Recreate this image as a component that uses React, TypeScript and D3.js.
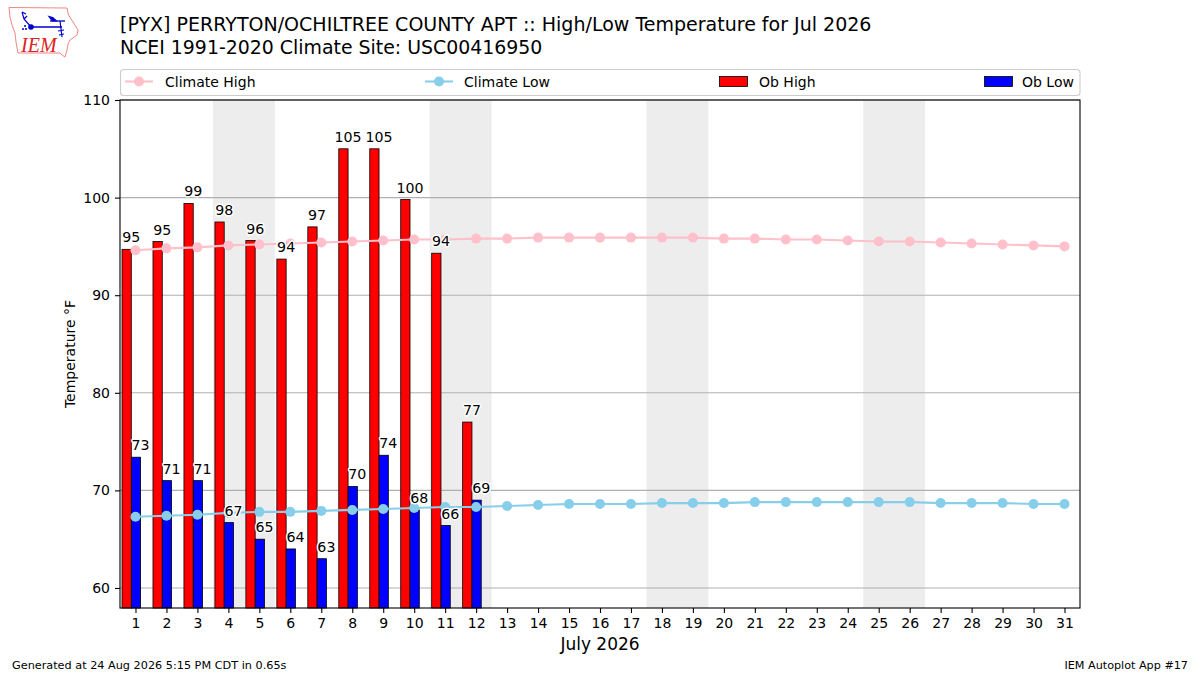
import { useEffect, useRef } from "react";
import * as d3 from "d3";

const WIDTH = 1200;
const HEIGHT = 675;
const MARGIN = { top: 100, right: 120, bottom: 67, left: 120 };
const FONT = "'DejaVu Sans', sans-serif";

const days = d3.range(1, 32);
const yTicks = [60, 70, 80, 90, 100, 110];
const weekends = [[3.5, 5.5], [10.5, 12.5], [17.5, 19.5], [24.5, 26.5]];

// bar heights sit a little off the printed labels in the original
const obHigh = [94.7, 95.5, 99.4, 97.5, 95.6, 93.7, 97, 105, 105, 99.8, 94.3, 77];
const obLow = [73.4, 71, 71, 66.7, 65, 64, 63, 70.4, 73.6, 68, 66.4, 69];
const obHighLabels = [95, 95, 99, 98, 96, 94, 97, 105, 105, 100, 94, 77];
const obLowLabels = [73, 71, 71, 67, 65, 64, 63, 70, 74, 68, 66, 69];

const climateHigh = [
  94.6, 94.8, 94.9, 95.1, 95.2, 95.3, 95.4, 95.5, 95.6, 95.7, 95.7, 95.8, 95.8, 95.9, 95.9, 95.9,
  95.9, 95.9, 95.9, 95.8, 95.8, 95.7, 95.7, 95.6, 95.5, 95.5, 95.4, 95.3, 95.2, 95.1, 95.0,
];
const climateLow = [
  67.3, 67.4, 67.5, 67.7, 67.8, 67.8, 67.9, 68.0, 68.1, 68.2, 68.3, 68.3, 68.4, 68.5, 68.6, 68.6,
  68.6, 68.7, 68.7, 68.7, 68.8, 68.8, 68.8, 68.8, 68.8, 68.8, 68.7, 68.7, 68.7, 68.6, 68.6,
];

const boundsW = WIDTH - MARGIN.left - MARGIN.right;
const boundsH = HEIGHT - MARGIN.top - MARGIN.bottom;

const x = d3.scaleLinear().domain([0.5, 31.5]).range([0, boundsW]);
const y = d3.scaleLinear().domain([57.95, 110]).range([boundsH, 0]);

const BAR_W = 0.3;
const HIGH_OFFSET = -0.435;
const LOW_OFFSET = HIGH_OFFSET + BAR_W;

const Logo = () => (
  <g>
    <path
      d="M9 7.5 L67 8 L68.5 15 L73 22 L78 30 L77 35 L70 40 L68 44 L67 50 L65 57 L62 55 L60 53 L18 53 L16 42 L15 33 L12 25 L10 17 Z"
      fill="#fff"
      stroke="#e77"
      strokeWidth={0.9}
    />
    <line x1={31} y1={27} x2={62} y2={27} stroke="#00c" strokeWidth={1.5} />
    <path d="M31 27 L24 19 L22 12 M22 12 L26 14 M24 19 L27 16" fill="none" stroke="#00c" strokeWidth={1.2} />
    <circle cx={23} cy={29} r={1} fill="#00c" />
    <circle cx={26} cy={29} r={1} fill="#00c" />
    <circle cx={25} cy={26} r={1} fill="#00c" />
    <line x1={50} y1={21} x2={65} y2={21} stroke="#00c" strokeWidth={1.3} />
    <path d="M60 21 L62 37 M58 31 L64 30 M59 35 L64 34" fill="none" stroke="#00c" strokeWidth={1.2} />
    <path d="M47.5 15.5 L53 17 L58 21.5 L52 21.5 Z" fill="#00c" />
    <circle cx={31} cy={27} r={2.8} fill="#00c" />
    <text x={21} y={52} fontFamily="'Liberation Serif', serif" fontStyle="italic" fontSize={20} fill="#d22">
      IEM
    </text>
  </g>
);

const App = () => {
  const axesRef = useRef<SVGGElement | null>(null);

  useEffect(() => {
    const g = d3.select(axesRef.current);
    g.selectAll("*").remove();

    const xAxis = g
      .append("g")
      .attr("transform", `translate(0,${boundsH})`)
      .call(d3.axisBottom(x).tickValues(days).tickFormat(d3.format("d")).tickSize(5).tickPadding(5));
    const yAxis = g
      .append("g")
      .call(d3.axisLeft(y).tickValues(yTicks).tickFormat(d3.format("d")).tickSize(5).tickPadding(5));

    [xAxis, yAxis].forEach((a) => {
      a.select(".domain").remove();
      a.selectAll("text").attr("font-family", FONT).attr("font-size", 14).attr("fill", "#000");
      a.selectAll("line").attr("stroke", "#000").attr("stroke-width", 1.1);
    });
  }, []);

  const line = (values: number[]) =>
    d3
      .line<number>()
      .x((_, i) => x(days[i]))
      .y((d) => y(d))(values) ?? "";

  const halo = {
    stroke: "#fff",
    strokeWidth: 3,
    paintOrder: "stroke",
    strokeLinejoin: "round",
  } as const;

  return (
    <svg
      width={WIDTH}
      height={HEIGHT}
      viewBox={`0 0 ${WIDTH} ${HEIGHT}`}
      style={{ position: "absolute", left: 0, top: 0, display: "block", background: "#fff" }}
    >
      <Logo />
      <text x={120} y={31} fontFamily={FONT} fontSize={19.03}>
        [PYX] PERRYTON/OCHILTREE COUNTY APT :: High/Low Temperature for Jul 2026
      </text>
      <text x={120} y={54} fontFamily={FONT} fontSize={18.9}>
        NCEI 1991-2020 Climate Site: USC00416950
      </text>

      {/* legend */}
      <g fontFamily={FONT} fontSize={14}>
        <rect x={120.5} y={69.5} width={959.5} height={26} rx={3} fill="#fff" stroke="#ccc" strokeWidth={1.1} />
        <line x1={125} x2={153} y1={81.5} y2={81.5} stroke="pink" strokeWidth={2.1} />
        <circle cx={139} cy={81.5} r={5} fill="pink" />
        <text x={165} y={86.5}>Climate High</text>
        <line x1={425} x2={453} y1={81.5} y2={81.5} stroke="skyblue" strokeWidth={2.1} />
        <circle cx={439} cy={81.5} r={5} fill="skyblue" />
        <text x={464} y={86.5}>Climate Low</text>
        <rect x={719.5} y={76.5} width={28} height={10} fill="red" stroke="#000" strokeWidth={0.8} />
        <text x={759} y={86.5}>Ob High</text>
        <rect x={984.5} y={76.5} width={28} height={10} fill="blue" stroke="#000" strokeWidth={0.8} />
        <text x={1022} y={86.5}>Ob Low</text>
      </g>

      <g transform={`translate(${MARGIN.left},${MARGIN.top})`}>
        {weekends.map(([a, b]) => (
          <rect key={a} x={x(a)} y={0} width={x(b) - x(a)} height={boundsH} fill="#000" fillOpacity={0.07} />
        ))}
        {yTicks.map((t) => (
          <line key={t} x1={0} x2={boundsW} y1={y(t)} y2={y(t)} stroke="#b0b0b0" strokeWidth={1.1} />
        ))}

        {obHigh.map((v, i) => (
          <rect
            key={i}
            x={x(days[i] + HIGH_OFFSET)}
            y={y(v)}
            width={x(BAR_W) - x(0)}
            height={boundsH - y(v)}
            fill="red"
            stroke="#000"
            strokeWidth={0.8}
          />
        ))}
        {obLow.map((v, i) => (
          <rect
            key={i}
            x={x(days[i] + LOW_OFFSET)}
            y={y(v)}
            width={x(BAR_W) - x(0)}
            height={boundsH - y(v)}
            fill="blue"
            stroke="#000"
            strokeWidth={0.8}
          />
        ))}

        <path d={line(climateHigh)} fill="none" stroke="pink" strokeWidth={2.1} />
        {climateHigh.map((v, i) => (
          <circle key={i} cx={x(days[i])} cy={y(v)} r={5} fill="pink" />
        ))}
        <path d={line(climateLow)} fill="none" stroke="skyblue" strokeWidth={2.1} />
        {climateLow.map((v, i) => (
          <circle key={i} cx={x(days[i])} cy={y(v)} r={5} fill="skyblue" />
        ))}

        <g fontFamily={FONT} fontSize={14.2} textAnchor="middle">
          {obHigh.map((v, i) => (
            <text key={i} x={x(days[i] + HIGH_OFFSET + BAR_W)} y={y(v) - 7} {...halo}>
              {obHighLabels[i]}
            </text>
          ))}
          {obLow.map((v, i) => (
            <text key={i} x={x(days[i] + LOW_OFFSET + BAR_W)} y={y(v) - 7} {...halo}>
              {obLowLabels[i]}
            </text>
          ))}
        </g>

        <g ref={axesRef} />
        <rect x={0} y={0} width={boundsW} height={boundsH} fill="none" stroke="#000" strokeWidth={1.1} />
      </g>

      <text x={600} y={650} textAnchor="middle" fontFamily={FONT} fontSize={17}>
        July 2026
      </text>
      <text
        transform={`translate(75,${MARGIN.top + boundsH / 2}) rotate(-90)`}
        textAnchor="middle"
        fontFamily={FONT}
        fontSize={14}
      >
        Temperature °F
      </text>
      <text x={12} y={669} fontFamily={FONT} fontSize={11.26}>
        Generated at 24 Aug 2026 5:15 PM CDT in 0.65s
      </text>
      <text x={1188} y={669} textAnchor="end" fontFamily={FONT} fontSize={11.2}>
        IEM Autoplot App #17
      </text>
    </svg>
  );
};

export default App;
